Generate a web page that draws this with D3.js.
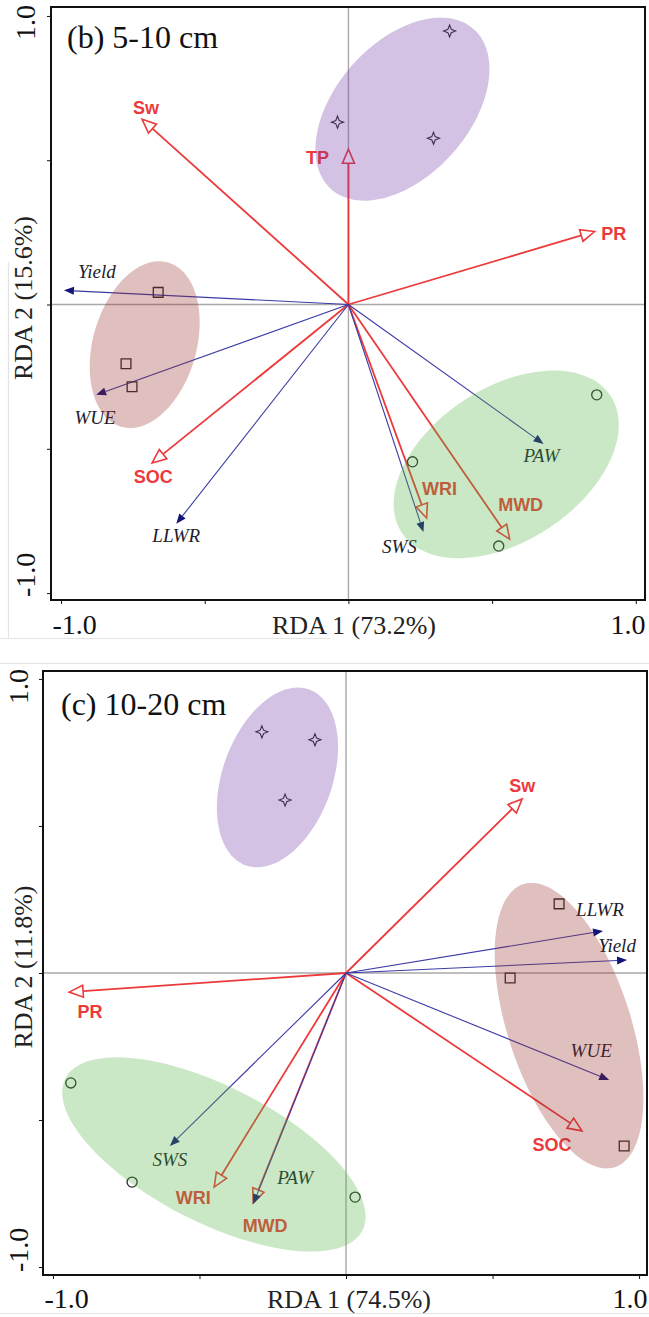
<!DOCTYPE html>
<html>
<head>
<meta charset="utf-8">
<script src="https://cdn.jsdelivr.net/npm/d3@7"></script>
<style>
body { margin: 0; background: #fff; }
svg { display: block; }
</style>
</head>
<body>
<div id="chart"></div>
<script>
/*globals d3*/

var width = 649,
height = 1317;

//PANEL (b) 5-10 cm
var bEnvNames = ["Sw", "TP", "PR", "SOC", "WRI", "MWD"];
var bEnvRDA1 = [-0.718, 0.000, 0.857, -0.683, 0.272, 0.561];
var bEnvRDA2 = [0.642, 0.538, 0.253, -0.549, -0.740, -0.813];

var bRespNames = ["Yield", "WUE", "LLWR", "PAW", "SWS"];
var bRespRDA1 = [-0.990, -0.878, -0.599, 0.679, 0.261];
var bRespRDA2 = [0.049, -0.313, -0.760, -0.483, -0.788];

var bSiteGroups = ["star", "star", "star", "square", "square", "square", "circle", "circle", "circle"];
var bSiteRDA1 = [0.352, -0.038, 0.296, -0.662, -0.774, -0.753, 0.864, 0.223, 0.523];
var bSiteRDA2 = [0.948, 0.632, 0.576, 0.042, -0.205, -0.285, -0.313, -0.545, -0.837];

var bEllipseGroups = ["star", "square", "circle"];
var bEllipseCx = [0.188, -0.709, 0.549];
var bEllipseCy = [0.677, -0.139, -0.554];
var bEllipseA = [0.372, 0.296, 0.434];
var bEllipseB = [0.232, 0.180, 0.266];
var bEllipseAngle = [48, 74, 33];

//PANEL (c) 10-20 cm
var cEnvNames = ["Sw", "PR", "SOC", "WRI", "MWD"];
var cEnvRDA1 = [0.601, -0.945, 0.805, -0.450, -0.317];
var cEnvRDA2 = [0.592, -0.065, -0.537, -0.728, -0.782];

var cRespNames = ["LLWR", "Yield", "WUE", "SWS", "PAW"];
var cRespRDA1 = [0.877, 0.959, 0.898, -0.601, -0.317];
var cRespRDA2 = [0.143, 0.044, -0.364, -0.588, -0.786];

var cSiteGroups = ["star", "star", "star", "square", "square", "square", "circle", "circle", "circle"];
var cSiteRDA1 = [-0.287, -0.106, -0.208, 0.727, 0.560, 0.949, -0.939, -0.730, 0.031];
var cSiteRDA2 = [0.820, 0.793, 0.588, 0.235, -0.017, -0.588, -0.374, -0.711, -0.762];

var cEllipseGroups = ["star", "square", "circle"];
var cEllipseCx = [-0.234, 0.761, -0.451];
var cEllipseCy = [0.665, -0.179, -0.617];
var cEllipseA = [0.318, 0.506, 0.569];
var cEllipseB = [0.187, 0.210, 0.231];
var cEllipseAngle = [70, -72, -27];

//AXES
var tickValues = [-1, -0.5, 0, 0.5, 1];
var endTickLabels = ["-1.0", "1.0"];

//LAYOUT - label offsets from arrow tips, in pixels
var labelOffsets = {
	b: { Sw: [4, -12], TP: [-31, 8], PR: [19, 2], SOC: [1, 14], WRI: [13, -29], MWD: [11, -34],
		Yield: [33, -19], WUE: [-1, 23], LLWR: [0, 12], PAW: [-2, 11], SWS: [-24, 14] },
	c: { Sw: [0, -13], PR: [21, 20], SOC: [-30, 14], WRI: [-21, 11], MWD: [12, 23],
		LLWR: [-3, -22], Yield: [-10, -15], WUE: [-18, -30], SWS: [0, 13], PAW: [42, -27] }
};

var ellipseColor = { star: "#6c34a2", square: "#94302a", circle: "#52b241" };
var red = "#ec3a3c",
	blueLine = "#3b3ba6",
	blueHead = "#141478";

var serif = "'Liberation Serif', 'Times New Roman', serif",
	sans = "'Liberation Sans', Arial, sans-serif";

var svg = d3.select("#chart").append("svg")
	.attr("width", width)
	.attr("height", height);

svg.append("rect").attr("width", width).attr("height", height).attr("fill", "#fff");

//faint page edges seen in the figure
var edge = svg.append("g").attr("stroke", "#e3e3e3").attr("stroke-width", 1.2);
edge.append("line").attr("x1", 8.5).attr("x2", 8.5).attr("y1", 262).attr("y2", 638);
edge.append("line").attr("x1", 0).attr("x2", 330).attr("y1", 638.5).attr("y2", 638.5);
edge.append("line").attr("x1", 0).attr("x2", width).attr("y1", 663.5).attr("y2", 663.5);
edge.append("line").attr("x1", 0).attr("x2", width).attr("y1", 1313.5).attr("y2", 1313.5);

function zip(names, xs, ys) {
	return names.map(function(n, i) { return { name: n, x: xs[i], y: ys[i] }; });
}

function starPath(r) {
	var k = r * 0.28;
	return "M0," + (-r) + "L" + k + "," + (-k) + "L" + r + ",0L" + k + "," + k +
		"L0," + r + "L" + (-k) + "," + k + "L" + (-r) + ",0L" + (-k) + "," + (-k) + "Z";
}

function drawPanel(p) {
	var x = d3.scaleLinear().domain(p.xDomain).range([p.left, p.right]);
	var y = d3.scaleLinear().domain(p.yDomain).range([p.bottom, p.top]);
	var g = svg.append("g");

	//TICKS
	g.append("g")
		.attr("transform", "translate(0," + p.bottom + ")")
		.call(d3.axisBottom(x).tickValues(tickValues).tickSize(4).tickFormat(""))
		.call(function(s) { s.select(".domain").remove(); s.selectAll("line").attr("stroke", "#111"); });
	g.append("g")
		.attr("transform", "translate(" + p.left + ",0)")
		.call(d3.axisLeft(y).tickValues(tickValues).tickSize(4).tickFormat(""))
		.call(function(s) { s.select(".domain").remove(); s.selectAll("line").attr("stroke", "#111"); });

	//ZERO LINES
	g.append("line")
		.attr("x1", x(0)).attr("x2", x(0)).attr("y1", p.top).attr("y2", p.bottom)
		.attr("stroke", "#a9a9a9").attr("stroke-width", 1.4);
	g.append("line")
		.attr("x1", p.left).attr("x2", p.right).attr("y1", y(0)).attr("y2", y(0))
		.attr("stroke", "#a9a9a9").attr("stroke-width", 1.4);

	var ox = x(0), oy = y(0);

	function arrow(sel, d, len, hw) {
		var tx = x(d.x), ty = y(d.y);
		var dx = tx - ox, dy = ty - oy, L = Math.sqrt(dx * dx + dy * dy);
		var ux = dx / L, uy = dy / L;
		var bx = tx - ux * len, by = ty - uy * len;
		sel.append("line")
			.attr("x1", ox).attr("y1", oy).attr("x2", bx).attr("y2", by);
		sel.append("path")
			.attr("class", "head")
			.attr("d", "M" + tx + "," + ty + "L" + (bx - uy * hw) + "," + (by + ux * hw) +
				"L" + (bx + uy * hw) + "," + (by - ux * hw) + "Z");
	}

	//ENVIRONMENT ARROWS (red, open heads)
	var env = zip(p.envNames, p.envX, p.envY);
	var envG = g.append("g").selectAll("g").data(env).enter().append("g");
	envG.each(function(d) { arrow(d3.select(this), d, 14, 6); });
	envG.selectAll("line").attr("stroke", red).attr("stroke-width", 1.8);
	envG.selectAll(".head").attr("fill", "#fff").attr("stroke", red).attr("stroke-width", 1.6);

	//RESPONSE ARROWS (blue, filled heads)
	var resp = zip(p.respNames, p.respX, p.respY);
	var respG = g.append("g").selectAll("g").data(resp).enter().append("g");
	respG.each(function(d) { arrow(d3.select(this), d, 10, 4); });
	respG.selectAll("line").attr("stroke", blueLine).attr("stroke-width", 1.1);
	respG.selectAll(".head").attr("fill", blueHead).attr("stroke", "none");

	//ARROW LABELS
	g.append("g").selectAll("text").data(env).enter().append("text")
		.attr("x", function(d) { return x(d.x) + p.offsets[d.name][0]; })
		.attr("y", function(d) { return y(d.y) + p.offsets[d.name][1]; })
		.attr("dy", "0.35em")
		.attr("text-anchor", "middle")
		.attr("font-family", sans).attr("font-weight", "bold").attr("font-size", 18)
		.attr("fill", red)
		.text(function(d) { return d.name; });

	g.append("g").selectAll("text").data(resp).enter().append("text")
		.attr("x", function(d) { return x(d.x) + p.offsets[d.name][0]; })
		.attr("y", function(d) { return y(d.y) + p.offsets[d.name][1]; })
		.attr("dy", "0.35em")
		.attr("text-anchor", "middle")
		.attr("font-family", serif).attr("font-style", "italic").attr("font-size", 19)
		.attr("fill", "#1c1c2c")
		.text(function(d) { return d.name; });

	//SITES
	var sites = p.siteGroups.map(function(gr, i) { return { group: gr, x: p.siteX[i], y: p.siteY[i] }; });
	g.append("g").selectAll("path").data(sites).enter().append("path")
		.attr("transform", function(d) { return "translate(" + x(d.x) + "," + y(d.y) + ")"; })
		.attr("d", function(d) {
			if (d.group === "star") return starPath(6);
			if (d.group === "square") return d3.symbol().type(d3.symbolSquare).size(95)();
			return d3.symbol().type(d3.symbolCircle).size(80)();
		})
		.attr("fill", "none")
		.attr("stroke", "#2a2a2a")
		.attr("stroke-width", function(d) { return d.group === "star" ? 1.1 : 1.3; });

	//ELLIPSES - overlaid, translucent
	var ells = p.ellGroups.map(function(gr, i) {
		return { group: gr, cx: p.ellCx[i], cy: p.ellCy[i], a: p.ellA[i], b: p.ellB[i], ang: p.ellAng[i] };
	});
	var line = d3.line().curve(d3.curveLinearClosed);
	g.append("g").selectAll("path").data(ells).enter().append("path")
		.attr("d", function(d) {
			var th = d.ang * Math.PI / 180, pts = [];
			for (var k = 0; k < 120; k++) {
				var t = 2 * Math.PI * k / 120;
				var ex = d.cx + d.a * Math.cos(t) * Math.cos(th) - d.b * Math.sin(t) * Math.sin(th);
				var ey = d.cy + d.a * Math.cos(t) * Math.sin(th) + d.b * Math.sin(t) * Math.cos(th);
				pts.push([x(ex), y(ey)]);
			}
			return line(pts);
		})
		.attr("fill", function(d) { return ellipseColor[d.group]; })
		.attr("fill-opacity", 0.3);

	//FRAME
	g.append("rect")
		.attr("x", p.left).attr("y", p.top)
		.attr("width", p.right - p.left).attr("height", p.bottom - p.top)
		.attr("fill", "none").attr("stroke", "#111").attr("stroke-width", 2);

	//TEXTS
	g.append("text")
		.attr("x", p.labelX).attr("y", p.labelY)
		.attr("font-family", serif).attr("font-size", 32).attr("fill", "#111")
		.text(p.label);

	g.append("text")
		.attr("x", p.left + 1.5).attr("y", p.xTickBase)
		.attr("font-family", serif).attr("font-size", 28).attr("fill", "#111")
		.text(endTickLabels[0]);
	g.append("text")
		.attr("x", p.right + 0.5).attr("y", p.xTickBase)
		.attr("text-anchor", "end")
		.attr("font-family", serif).attr("font-size", 28).attr("fill", "#111")
		.text(endTickLabels[1]);

	g.append("text")
		.attr("transform", "translate(" + p.yTickBase + "," + (p.bottom - 3) + ") rotate(-90)")
		.attr("font-family", serif).attr("font-size", 28).attr("fill", "#111")
		.text(endTickLabels[0]);
	g.append("text")
		.attr("transform", "translate(" + p.yTickBase + "," + (p.top - 2) + ") rotate(-90)")
		.attr("text-anchor", "end")
		.attr("font-family", serif).attr("font-size", 28).attr("fill", "#111")
		.text(endTickLabels[1]);

	g.append("text")
		.attr("x", p.xTitleX).attr("y", p.xTickBase)
		.attr("text-anchor", "middle")
		.attr("font-family", serif).attr("font-size", 26).attr("fill", "#222")
		.text(p.xTitle);
	g.append("text")
		.attr("transform", "translate(" + p.yTitleBase + "," + p.yTitleY + ") rotate(-90)")
		.attr("text-anchor", "middle")
		.attr("font-family", serif).attr("font-size", 26).attr("fill", "#222")
		.text(p.yTitle);
}

drawPanel({
	left: 51, right: 645, top: 7, bottom: 600,
	xDomain: [-1.035, 1.032], yDomain: [-1.024, 1.031],
	envNames: bEnvNames, envX: bEnvRDA1, envY: bEnvRDA2,
	respNames: bRespNames, respX: bRespRDA1, respY: bRespRDA2,
	siteGroups: bSiteGroups, siteX: bSiteRDA1, siteY: bSiteRDA2,
	ellGroups: bEllipseGroups, ellCx: bEllipseCx, ellCy: bEllipseCy,
	ellA: bEllipseA, ellB: bEllipseB, ellAng: bEllipseAngle,
	offsets: labelOffsets.b,
	label: "(b) 5-10 cm", labelX: 67, labelY: 48,
	xTitle: "RDA 1 (73.2%)", xTitleX: 354, xTickBase: 634,
	yTitle: "RDA 2 (15.6%)", yTitleY: 298, yTitleBase: 32, yTickBase: 35
});

drawPanel({
	left: 43, right: 647, top: 671, bottom: 1275,
	xDomain: [-1.034, 1.027], yDomain: [-1.027, 1.027],
	envNames: cEnvNames, envX: cEnvRDA1, envY: cEnvRDA2,
	respNames: cRespNames, respX: cRespRDA1, respY: cRespRDA2,
	siteGroups: cSiteGroups, siteX: cSiteRDA1, siteY: cSiteRDA2,
	ellGroups: cEllipseGroups, ellCx: cEllipseCx, ellCy: cEllipseCy,
	ellA: cEllipseA, ellB: cEllipseB, ellAng: cEllipseAngle,
	offsets: labelOffsets.c,
	label: "(c) 10-20 cm", labelX: 61, labelY: 715,
	xTitle: "RDA 1 (74.5%)", xTitleX: 349, xTickBase: 1308,
	yTitle: "RDA 2 (11.8%)", yTitleY: 967, yTitleBase: 32, yTickBase: 28
});
</script>
</body>
</html>
